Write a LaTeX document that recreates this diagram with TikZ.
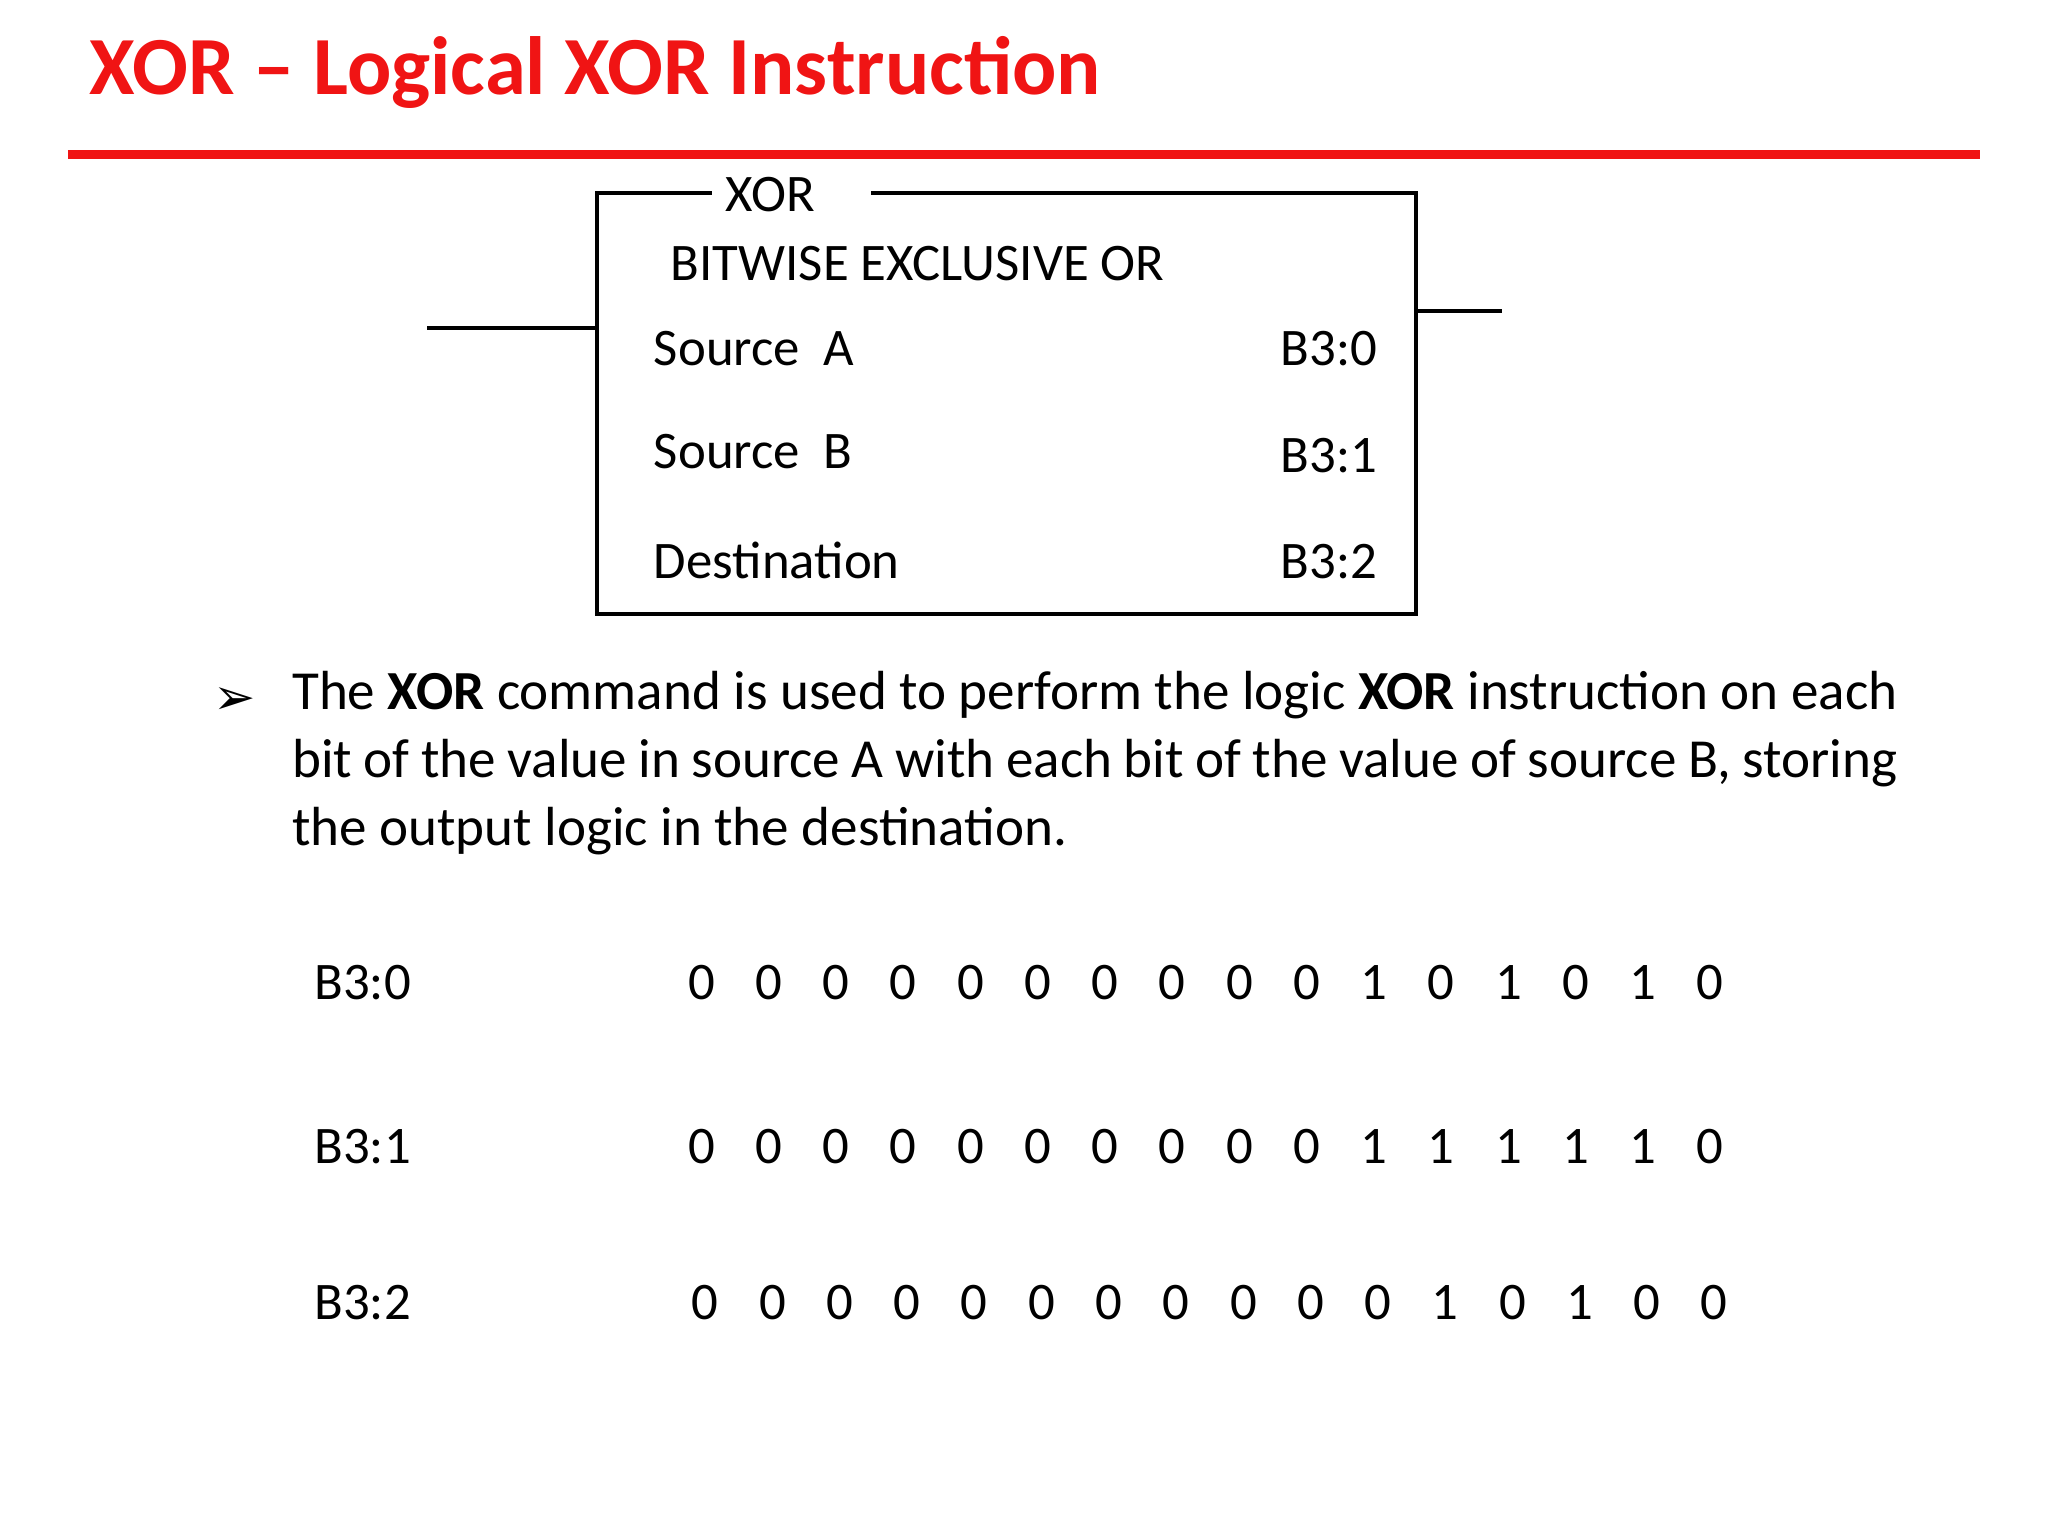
\documentclass[tikz,border=0pt]{standalone}
\usepackage{fontspec}
\setmainfont{Carlito}
\newfontfamily\djv{DejaVu Sans}
\definecolor{tred}{RGB}{240,20,20}
\begin{document}
\begin{tikzpicture}[x=0.1mm,y=-0.1mm,
  txt/.style={inner sep=0,anchor=base west,font=\fontsize{11.5}{14}\selectfont},
  rtxt/.style={inner sep=0,anchor=base east,font=\fontsize{11.5}{14}\selectfont},
  dig/.style={inner sep=0,anchor=base,font=\fontsize{11.5}{14}\selectfont},
  wire/.style={line width=0.85pt}]
\useasboundingbox (0,0) rectangle (1568,1176);
\node[inner sep=0,anchor=base west,text=tred,font=\fontsize{18}{20}\bfseries\selectfont] (title) at (68,72) {XOR -- Logical XOR Instruction};
\coordinate (rl) at (52,118); \coordinate (rr) at (1516,118);
\draw[tred,line width=2pt] (rl) -- (rr);
% box
\coordinate (b1) at (545,148); \coordinate (b2) at (667,148);
\draw[wire] (b1) -- (457,148) -- (457,470) -- (1084,470) -- (1084,148) -- (b2);
\node[txt] (xor) at (555,162) {XOR};
\coordinate (lw) at (327,251); \coordinate (lb) at (457,251);
\draw[wire] (lw) -- (lb);
\coordinate (rw) at (1150,238); \coordinate (rb) at (1084,238);
\draw[wire] (rb) -- (rw);
\node[txt] (bw) at (513,215) {BITWISE EXCLUSIVE OR};
\node[txt] (sa) at (500,280) {Source\ \ A};
\node[rtxt] (va) at (1055,280) {B3:0};
\node[txt] (sb) at (500,359) {Source\ \ B};
\node[rtxt] (vb) at (1055,362) {B3:1};
\node[txt] (ds) at (500,443) {Destination};
\node[rtxt] (vd) at (1055,443) {B3:2};
% bullet
\node[inner sep=0,anchor=base,font=\djv\fontsize{11}{13}\selectfont] (arr) at (180,547) {➢};
\node[inner sep=0,anchor=north west,text width=1229\pgflinewidth*0+349.7pt,align=justify,
  font=\fontsize{12}{14.8}\selectfont] (para) at (223,513)
  {The \textbf{XOR} command is used to perform the logic \textbf{XOR} instruction on each bit of the value in source A with each bit of the value of source B, storing the output logic in the destination.};
% table
\node[txt] (l0) at (240,765) {B3:0};
\node[txt] (l1) at (240,891) {B3:1};
\node[txt] (l2) at (240,1010) {B3:2};
\foreach \v [count=\i from 0] in {0,0,0,0,0,0,0,0,0,0,1,0,1,0,1,0}
  \node[dig] (a\i) at (537+51.5*\i,765) {\v};
\foreach \v [count=\i from 0] in {0,0,0,0,0,0,0,0,0,0,1,1,1,1,1,0}
  \node[dig] (b\i) at (537+51.5*\i,891) {\v};
\foreach \v [count=\i from 0] in {0,0,0,0,0,0,0,0,0,0,0,1,0,1,0,0}
  \node[dig] (c\i) at (540+51.5*\i,1010) {\v};
\end{tikzpicture}
\end{document}
